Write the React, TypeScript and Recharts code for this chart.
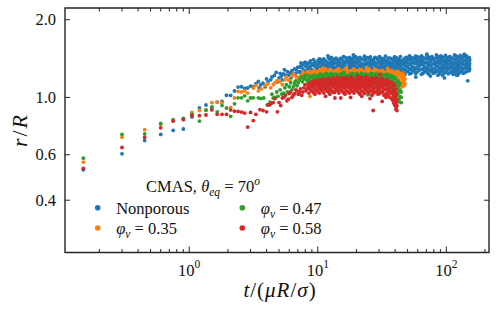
import React from 'react';
import { ScatterChart, Scatter, XAxis, YAxis, ReferenceArea } from 'recharts';

const W = 498;
const H = 312;
const PLOT_LEFT = 65;
const PLOT_RIGHT = 489;
const PLOT_TOP = 8;
const PLOT_BOTTOM = 252.5;
const FONT = '"Liberation Serif", "Times New Roman", serif';
const INK = '#262626';
const TEXT = '#111';

const BLUE = '#1f77b4';
const ORANGE = '#ff7f0e';
const GREEN = '#2ca02c';
const RED = '#d62728';

const X_DOMAIN: [number, number] = [0.108, 215];
const Y_DOMAIN: [number, number] = [0.251, 2.22];
const X_TICKS = [0.2, 0.3, 0.4, 0.5, 0.6, 0.7, 0.8, 0.9, 1, 2, 3, 4, 5, 6, 7, 8, 9, 10, 20, 30, 40, 50, 60, 70, 80, 90, 100, 200];
const X_MAJOR: Record<string, string> = { '1': '0', '10': '1', '100': '2' };
const Y_TICKS = [0.4, 0.6, 1.0, 2.0];
const Y_LABELS = ['0.4', '0.6', '1.0', '2.0'];

// first samples, every 0.15 time units
const tEarly = [0.15, 0.3, 0.45, 0.6, 0.75, 0.9, 1.05, 1.2, 1.35, 1.5, 1.65, 1.8, 1.95, 2.1, 2.25, 2.4, 2.55, 2.7, 2.85, 3.0];
const blueEarly = [0.525, 0.605, 0.681, 0.719, 0.745, 0.755, 0.84, 0.912, 0.935, 0.912, 0.96, 0.965, 1.02, 1.018, 1.06, 1.097, 1.1, 1.085, 1.088, 1.107];
const orangeEarly = [0.562, 0.702, 0.75, 0.785, 0.812, 0.825, 0.875, 0.89, 0.895, 0.955, 0.96, 0.952, 0.91, 0.915, 0.995, 1.055, 1.05, 1.06, 1.04, 0.995];
const greenEarly = [0.582, 0.719, 0.722, 0.793, 0.82, 0.83, 0.86, 0.81, 0.893, 0.92, 0.88, 0.93, 0.91, 0.845, 0.945, 0.997, 0.997, 1.015, 0.97, 0.997];
const redEarly = [0.531, 0.64, 0.7, 0.763, 0.81, 0.82, 0.85, 0.85, 0.855, 0.895, 0.86, 0.86, 0.86, 0.895, 0.885, 0.883, 0.878, 0.87, 0.768, 0.875];

// later samples: [t, r values seen around that t]
const blueLate: [number, number[]][] = [
  [3.15, [1.1]], [3.3, [1.13]], [3.45, [1.153]], [3.6, [1.12]], [3.75, [1.135]], [3.9, [1.1]],
  [4.1, [1.148]], [4.3, [1.17]], [4.6, [1.217]], [4.85, [1.148]], [5.0, [1.19]], [5.2, [1.21]],
  [5.3, [1.17]], [5.4, [1.235]], [5.6, [1.22]], [5.8, [1.26]], [6.1, [1.245]], [6.2, [1.19]],
  [6.4, [1.23]], [6.6, [1.29]], [6.8, [1.28]], [6.9, [1.2]], [7.1, [1.255]],
  [7.27, [1.19, 1.26, 1.31]], [7.67, [1.22, 1.29, 1.34]], [8.09, [1.21, 1.27, 1.32]],
  [8.54, [1.24, 1.3, 1.36]], [9.01, [1.23, 1.28, 1.35]], [9.51, [1.26, 1.32, 1.37]],
  [10.04, [1.24, 1.3, 1.34, 1.39]], [10.59, [1.27, 1.32, 1.38]], [11.17, [1.25, 1.31, 1.36, 1.41]],
  [11.79, [1.28, 1.33, 1.37]], [12.44, [1.26, 1.3, 1.35, 1.4]], [13.13, [1.29, 1.34, 1.39]],
  [13.86, [1.25, 1.31, 1.36, 1.42]], [14.62, [1.28, 1.33, 1.38]], [15.43, [1.26, 1.3, 1.35, 1.4]],
  [16.28, [1.29, 1.34, 1.38, 1.43]], [17.18, [1.27, 1.31, 1.36, 1.4]], [18.13, [1.25, 1.3, 1.35, 1.39]],
  [19.13, [1.28, 1.33, 1.38, 1.42]], [20.19, [1.26, 1.31, 1.36, 1.4]], [21.3, [1.28, 1.33, 1.37, 1.43]],
  [22.48, [1.26, 1.31, 1.35, 1.4]], [23.71, [1.29, 1.34, 1.38, 1.42]], [25.03, [1.27, 1.31, 1.36, 1.41]],
  [26.41, [1.25, 1.3, 1.35, 1.39]], [27.87, [1.28, 1.33, 1.37, 1.43]], [29.4, [1.26, 1.31, 1.36, 1.4]],
  [31.03, [1.29, 1.34, 1.38, 1.42]], [32.74, [1.27, 1.32, 1.36, 1.41]], [34.55, [1.25, 1.3, 1.35, 1.39]],
  [36.46, [1.28, 1.33, 1.37, 1.42]], [38.47, [1.26, 1.31, 1.36, 1.4]], [40.6, [1.29, 1.34, 1.38, 1.43]],
  [42.84, [1.27, 1.32, 1.36, 1.41]], [45.2, [1.25, 1.3, 1.35, 1.39]], [47.7, [1.23, 1.28, 1.33, 1.37, 1.42]],
  [50.3, [1.26, 1.31, 1.36, 1.4]], [53.1, [1.24, 1.29, 1.34, 1.39, 1.43]], [56.1, [1.27, 1.31, 1.36, 1.41]],
  [59.1, [1.25, 1.3, 1.35, 1.39, 1.44]], [62.4, [1.28, 1.33, 1.37, 1.42]], [65.9, [1.24, 1.29, 1.34, 1.38, 1.43]],
  [69.5, [1.27, 1.31, 1.36, 1.41]], [73.3, [1.23, 1.28, 1.33, 1.37, 1.42]], [77.4, [1.26, 1.3, 1.35, 1.4, 1.44]],
  [81.6, [1.25, 1.29, 1.34, 1.38]], [86.1, [1.22, 1.27, 1.32, 1.37, 1.41]], [90.9, [1.26, 1.3, 1.35, 1.4, 1.45]],
  [95.9, [1.24, 1.29, 1.33, 1.38, 1.42]], [101, [1.27, 1.31, 1.36, 1.41]], [107, [1.25, 1.3, 1.34, 1.39, 1.44]],
  [113, [1.23, 1.28, 1.33, 1.37, 1.42]], [119, [1.26, 1.31, 1.35, 1.4, 1.45]], [125, [1.24, 1.29, 1.34, 1.38, 1.43]],
  [132, [1.27, 1.31, 1.36, 1.41]], [140, [1.25, 1.3, 1.34, 1.39, 1.44]], [147, [1.16, 1.28, 1.33, 1.37, 1.42]],
  [152, [1.29, 1.35, 1.4]],
];

// in-between samples of the same runs, filling the dense band, plus stray points
const blueFill: [number, number[]][] = [
  [3.5, [1.09]], [4.0, [1.18]], [4.4, [1.2]], [4.75, [1.25]], [5.1, [1.24]], [5.5, [1.28]],
  [5.9, [1.22]], [6.3, [1.27]], [6.7, [1.24]], [7.0, [1.31]], [7.4, [1.36]], [8.0, [1.37]],
  [7.47, [1.23, 1.33]], [7.88, [1.25, 1.36]], [8.31, [1.28, 1.345]], [8.77, [1.22, 1.32, 1.385]],
  [9.26, [1.265, 1.33, 1.4]], [9.77, [1.235, 1.285, 1.35]], [10.31, [1.255, 1.36, 1.41]],
  [10.88, [1.24, 1.295, 1.345, 1.4]], [11.48, [1.27, 1.33, 1.385]], [12.11, [1.245, 1.305, 1.355, 1.42]],
  [12.0, [1.45]], [18.9, [1.46]], [26.0, [1.22]], [33.0, [1.21]], [58.0, [1.2]], [70.5, [1.47]],
  [96.7, [1.19]], [120.5, [1.22]], [138, [1.47]],
  [12.78, [1.28, 1.32, 1.375, 1.43]], [13.49, [1.25, 1.305, 1.36, 1.405]], [14.24, [1.265, 1.345, 1.4]],
  [15.02, [1.245, 1.31, 1.355, 1.415]], [15.85, [1.275, 1.325, 1.37, 1.44]], [16.72, [1.25, 1.295, 1.38, 1.42]],
  [17.65, [1.285, 1.33, 1.375, 1.43]], [18.63, [1.265, 1.32, 1.365, 1.415]], [19.65, [1.245, 1.3, 1.355, 1.44]],
  [20.74, [1.275, 1.325, 1.385, 1.42]], [21.88, [1.255, 1.305, 1.35, 1.41]], [23.09, [1.28, 1.34, 1.395, 1.445]],
  [24.36, [1.25, 1.3, 1.355, 1.425]], [25.71, [1.265, 1.33, 1.38, 1.435]], [27.13, [1.285, 1.345, 1.405]],
  [28.63, [1.245, 1.295, 1.35, 1.42]], [30.2, [1.27, 1.315, 1.375, 1.44]], [31.88, [1.25, 1.305, 1.36, 1.405]],
  [33.63, [1.28, 1.325, 1.39, 1.445]], [35.49, [1.26, 1.31, 1.36, 1.42]], [37.46, [1.245, 1.295, 1.345, 1.41]],
  [39.52, [1.27, 1.32, 1.39, 1.435]], [41.71, [1.25, 1.31, 1.355, 1.4]], [44.0, [1.28, 1.335, 1.38, 1.44]],
  [46.43, [1.24, 1.29, 1.345, 1.4]], [49.0, [1.265, 1.32, 1.375, 1.43]], [51.7, [1.235, 1.285, 1.345, 1.41, 1.45]],
  [54.5, [1.265, 1.31, 1.37, 1.42]], [57.6, [1.24, 1.295, 1.355, 1.4, 1.445]], [60.7, [1.27, 1.32, 1.38, 1.43]],
  [64.1, [1.23, 1.285, 1.345, 1.405, 1.45]], [67.7, [1.26, 1.31, 1.365, 1.42]], [71.4, [1.245, 1.3, 1.355, 1.41, 1.45]],
  [75.3, [1.21, 1.27, 1.325, 1.385, 1.43]], [79.5, [1.24, 1.29, 1.35, 1.415]], [83.8, [1.265, 1.315, 1.36, 1.425, 1.46]],
  [88.5, [1.24, 1.3, 1.355, 1.39, 1.44]], [93.4, [1.22, 1.275, 1.32, 1.375, 1.43]], [98.5, [1.25, 1.305, 1.35, 1.395, 1.455]],
  [103.8, [1.235, 1.29, 1.34, 1.385, 1.43]], [109.9, [1.26, 1.315, 1.365, 1.42]], [116.1, [1.245, 1.295, 1.355, 1.4, 1.46]],
  [122.2, [1.22, 1.275, 1.325, 1.38, 1.43]], [128.4, [1.255, 1.31, 1.36, 1.41, 1.455]], [135.6, [1.24, 1.29, 1.345, 1.39, 1.44]],
  [143.8, [1.26, 1.31, 1.365, 1.415, 1.45]], [151, [1.27, 1.32, 1.38, 1.425]],
];

const orangeLate: [number, number[]][] = [
  [3.15, [1.087]], [3.3, [1.113]], [3.45, [1.06]], [3.65, [1.08]], [3.9, [1.113]], [4.1, [1.13]],
  [4.5, [1.12]], [4.8, [1.16]], [5.3, [1.12]], [5.55, [1.17]], [5.9, [1.17]], [6.3, [1.21]],
  [6.6, [1.15]], [7.0, [1.19]], [7.5, [1.22]], [7.8, [1.18]], [8.1, [1.23]], [8.4, [1.2]], [8.7, [1.01]],
  [8.54, [1.17, 1.22, 1.26]], [9.01, [1.15, 1.2, 1.25]], [9.51, [1.18, 1.23, 1.27]],
  [10.04, [1.16, 1.21, 1.26]], [10.59, [1.19, 1.24, 1.28]], [11.17, [1.15, 1.2, 1.25]],
  [11.79, [1.17, 1.22, 1.27]], [12.44, [1.19, 1.24, 1.28]], [13.13, [1.16, 1.21, 1.26]],
  [13.86, [1.18, 1.23, 1.27]], [14.62, [1.15, 1.2, 1.25, 1.29]], [15.43, [1.17, 1.22, 1.26]],
  [16.28, [1.19, 1.24, 1.28]], [17.18, [1.16, 1.21, 1.26]], [18.13, [1.18, 1.23, 1.27]],
  [19.13, [1.15, 1.2, 1.25, 1.29]], [20.19, [1.17, 1.22, 1.27]], [21.3, [1.19, 1.24, 1.28]],
  [22.48, [1.16, 1.21, 1.26]], [23.71, [1.18, 1.23, 1.27]], [25.03, [1.15, 1.2, 1.25, 1.29]],
  [26.41, [1.17, 1.22, 1.26]], [27.87, [1.19, 1.23, 1.28]], [29.4, [1.16, 1.21, 1.26]],
  [31.03, [1.18, 1.22, 1.27]], [32.74, [1.15, 1.2, 1.25]], [34.55, [1.17, 1.22, 1.26]],
  [36.46, [1.14, 1.19, 1.24, 1.27]], [38.47, [1.16, 1.21, 1.25]], [40.6, [1.13, 1.18, 1.23, 1.26]],
  [42.84, [1.11, 1.16, 1.21, 1.25]], [45.2, [1.1, 1.15, 1.2, 1.24]], [46.85, [1.11, 1.16, 1.21]],
  [47.7, [1.13, 1.18]],
];

const orangeFill: [number, number[]][] = [
  [4.3, [1.09]], [4.65, [1.14]], [5.1, [1.15]], [5.7, [1.2]], [6.1, [1.16]], [6.5, [1.23]],
  [6.8, [1.2]], [7.3, [1.17]], [7.7, [1.25]], [8.3, [1.26]],
  [11.0, [1.3]], [16.7, [1.305]], [24.0, [1.3]], [35.0, [1.295]],
  [8.77, [1.195, 1.245]], [9.26, [1.21, 1.265]], [9.77, [1.185, 1.24]], [10.31, [1.225, 1.275]],
  [10.88, [1.2, 1.255]], [11.48, [1.215, 1.285]], [12.11, [1.19, 1.245]], [12.78, [1.23, 1.27]],
  [13.49, [1.205, 1.26]], [14.24, [1.22, 1.28]], [15.02, [1.195, 1.25]], [15.85, [1.215, 1.27]],
  [16.72, [1.235, 1.285]], [17.65, [1.2, 1.255]], [18.63, [1.225, 1.27]], [19.65, [1.19, 1.245]],
  [20.74, [1.21, 1.265]], [21.88, [1.23, 1.28]], [23.09, [1.2, 1.25]], [24.36, [1.22, 1.275]],
  [25.71, [1.195, 1.26]], [27.13, [1.215, 1.27]], [28.63, [1.235, 1.28]], [30.2, [1.205, 1.255]],
  [31.88, [1.225, 1.27]], [33.63, [1.19, 1.245]], [35.49, [1.21, 1.265]], [37.46, [1.185, 1.235, 1.27]],
  [39.52, [1.2, 1.25]], [41.71, [1.17, 1.225, 1.26]], [44.0, [1.14, 1.19, 1.235]], [46.43, [1.13, 1.175, 1.225]],
];

const greenLate: [number, number[]][] = [
  [3.15, [0.997]], [3.45, [0.997]], [3.6, [0.99]], [3.8, [0.995]], [4.05, [0.935]], [4.25, [0.96]],
  [4.5, [0.995]], [4.65, [1.0]], [4.9, [1.01]], [5.25, [1.03]], [5.55, [1.09]], [5.8, [1.05]],
  [6.0, [1.1]], [6.3, [1.07]], [6.6, [1.13]], [6.9, [1.11]], [7.2, [1.17]], [7.6, [1.15]],
  [7.9, [1.2]], [8.2, [1.17]],
  [8.54, [1.12, 1.17, 1.21]], [9.01, [1.1, 1.15, 1.2]], [9.51, [1.13, 1.18, 1.22]],
  [10.04, [1.11, 1.16, 1.21]], [10.59, [1.09, 1.14, 1.19, 1.23]], [11.17, [1.12, 1.17, 1.22]],
  [11.79, [1.1, 1.15, 1.2, 1.24]], [12.44, [1.13, 1.18, 1.22]], [13.13, [1.11, 1.16, 1.21]],
  [13.86, [1.09, 1.14, 1.19, 1.23]], [14.62, [1.12, 1.17, 1.22]], [15.43, [1.1, 1.15, 1.2, 1.24]],
  [16.28, [1.13, 1.18, 1.22]], [17.18, [1.11, 1.16, 1.21]], [18.13, [1.09, 1.14, 1.19, 1.23]],
  [19.13, [1.12, 1.17, 1.22]], [20.19, [1.1, 1.15, 1.2, 1.24]], [21.3, [1.13, 1.18, 1.22]],
  [22.48, [1.11, 1.16, 1.21]], [23.71, [1.09, 1.14, 1.19, 1.23]], [24.6, [1.024]], [25.03, [1.12, 1.17, 1.22]],
  [26.41, [1.1, 1.15, 1.2, 1.24]], [27.87, [1.13, 1.18, 1.22]], [29.4, [1.11, 1.16, 1.21]],
  [31.03, [1.09, 1.14, 1.19, 1.23]], [32.74, [1.12, 1.17, 1.22]], [34.55, [1.1, 1.15, 1.2, 1.23]],
  [36.46, [1.08, 1.13, 1.18, 1.22]], [38.47, [1.06, 1.11, 1.16, 1.21]], [40.6, [1.02, 1.08, 1.14, 1.19]],
  [41.5, [0.965]], [42.08, [0.98, 1.04, 1.1, 1.16]], [43.61, [0.96, 1.01, 1.07, 1.13]], [44.6, [0.955, 1.0, 1.05]],
];

const greenFill: [number, number[]][] = [
  [4.4, [1.03]], [4.8, [1.05]], [5.1, [1.07]], [5.4, [1.04]], [5.7, [1.12]], [6.15, [1.14]],
  [6.45, [1.1]], [6.75, [1.16]], [7.05, [1.14]], [7.4, [1.2]], [7.75, [1.18]], [8.05, [1.22]], [8.35, [1.15]],
  [12.3, [1.06]], [19.6, [1.07]], [29.8, [1.05]], [16.0, [1.25]],
  [8.77, [1.14, 1.19]], [9.26, [1.125, 1.175, 1.215]], [9.77, [1.155, 1.2]], [10.31, [1.135, 1.185, 1.225]],
  [10.88, [1.16, 1.21]], [11.48, [1.14, 1.19, 1.235]], [12.11, [1.125, 1.17, 1.215]], [12.78, [1.15, 1.2, 1.24]],
  [13.49, [1.135, 1.185, 1.225]], [14.24, [1.16, 1.205]], [15.02, [1.13, 1.175, 1.23]], [15.85, [1.145, 1.19, 1.235]],
  [16.72, [1.16, 1.21]], [17.65, [1.13, 1.18, 1.225]], [18.63, [1.155, 1.2, 1.24]], [19.65, [1.14, 1.185, 1.23]],
  [20.74, [1.125, 1.17, 1.215]], [21.88, [1.15, 1.195, 1.24]], [23.09, [1.135, 1.18, 1.225]], [24.36, [1.16, 1.205]],
  [25.71, [1.14, 1.19, 1.235]], [27.13, [1.125, 1.175, 1.22]], [28.63, [1.15, 1.195, 1.24]], [30.2, [1.135, 1.185, 1.225]],
  [31.88, [1.155, 1.2]], [33.63, [1.13, 1.18, 1.225]], [35.49, [1.12, 1.165, 1.21]], [37.46, [1.1, 1.15, 1.195]],
  [39.52, [1.07, 1.125, 1.18]], [41.71, [1.03, 1.09, 1.15]], [43.0, [0.99, 1.06, 1.12]],
];

const redLate: [number, number[]][] = [
  [3.15, [0.814]], [3.3, [0.86]], [3.55, [0.897]], [3.75, [0.89]], [4.0, [0.88]], [4.12, [0.937]],
  [4.24, [0.937]], [4.37, [0.951]], [4.5, [0.955]], [4.85, [0.88]], [5.0, [0.955]], [5.3, [0.995]],
  [5.6, [1.02]], [5.75, [0.97]], [6.0, [1.035]], [6.3, [1.0]], [6.6, [1.035]], [6.9, [1.06]],
  [7.2, [1.05]], [7.5, [1.02]], [7.8, [1.09]], [8.1, [1.06]], [8.4, [1.11]],
  [8.54, [1.04, 1.09, 1.13]], [9.01, [1.06, 1.11, 1.15]], [9.51, [1.03, 1.08, 1.12, 1.16]],
  [10.04, [1.05, 1.1, 1.14]], [10.59, [1.07, 1.12, 1.17]], [11.17, [1.04, 1.09, 1.13, 1.18]],
  [11.79, [1.06, 1.11, 1.15]], [12.44, [1.03, 1.08, 1.13, 1.17]], [13.13, [1.05, 1.1, 1.14, 1.19]],
  [13.6, [0.995]], [13.86, [1.07, 1.12, 1.16]], [14.62, [1.04, 1.09, 1.14, 1.18]], [15.1, [0.995]],
  [15.43, [1.06, 1.11, 1.15, 1.19]], [16.28, [1.03, 1.08, 1.12, 1.17]], [17.18, [1.05, 1.1, 1.14, 1.18]],
  [18.13, [1.07, 1.11, 1.16, 1.2]], [19.13, [1.04, 1.09, 1.13, 1.17]], [20.19, [1.06, 1.1, 1.15, 1.19]],
  [21.3, [1.03, 1.08, 1.12, 1.17]], [22.48, [1.05, 1.1, 1.14, 1.18]], [23.71, [1.07, 1.11, 1.16, 1.2]],
  [25.03, [1.04, 1.09, 1.13, 1.17]], [26.41, [1.02, 1.06, 1.11, 1.15, 1.19]], [27.0, [0.89]],
  [27.87, [1.05, 1.09, 1.14, 1.18]], [29.4, [1.03, 1.08, 1.12, 1.16]], [30.5, [1.225]],
  [31.03, [1.05, 1.1, 1.14, 1.18]], [31.7, [0.965]], [32.74, [1.02, 1.07, 1.11, 1.16]],
  [34.55, [1.04, 1.08, 1.13, 1.17]], [36.46, [1.0, 1.05, 1.1, 1.15]], [38.47, [0.97, 1.03, 1.08, 1.13]],
  [39.8, [0.93, 0.99, 1.05, 1.11]], [40.6, [0.9, 0.95, 1.01, 1.07]], [41.3, [0.89, 0.93, 0.98]],
];

const redFill: [number, number[]][] = [
  [4.65, [0.99]], [5.15, [0.93]], [5.45, [1.0]], [5.9, [0.985]], [6.15, [1.05]], [6.45, [1.02]],
  [6.75, [1.07]], [7.05, [1.03]], [7.35, [1.08]], [7.65, [1.05]], [7.95, [1.12]], [8.25, [1.08]],
  [11.5, [1.01]], [18.0, [1.0]], [22.0, [1.01]], [25.5, [0.99]], [34.0, [1.0]], [20.5, [1.21]],
  [8.77, [1.07, 1.12]], [9.26, [1.045, 1.095, 1.14]], [9.77, [1.065, 1.115, 1.16]], [10.31, [1.04, 1.085, 1.13, 1.17]],
  [10.88, [1.06, 1.105, 1.15]], [11.48, [1.075, 1.125, 1.17]], [12.11, [1.05, 1.095, 1.14, 1.185]], [12.78, [1.065, 1.115, 1.16]],
  [13.49, [1.045, 1.09, 1.135, 1.18]], [14.24, [1.06, 1.105, 1.15, 1.195]], [15.02, [1.07, 1.12, 1.165]],
  [15.85, [1.045, 1.095, 1.14, 1.18]], [16.72, [1.06, 1.11, 1.155, 1.195]], [17.65, [1.04, 1.085, 1.13, 1.17]],
  [18.63, [1.055, 1.1, 1.145, 1.185]], [19.65, [1.07, 1.12, 1.165]], [20.74, [1.045, 1.09, 1.135, 1.18]],
  [21.88, [1.06, 1.105, 1.15, 1.195]], [23.09, [1.035, 1.08, 1.125, 1.17]], [24.36, [1.055, 1.1, 1.145, 1.19]],
  [25.71, [1.065, 1.115, 1.16]], [27.13, [1.04, 1.085, 1.13, 1.175]], [28.63, [1.055, 1.1, 1.145, 1.19]],
  [30.2, [1.035, 1.08, 1.125, 1.165]], [31.88, [1.05, 1.095, 1.14, 1.18]], [33.63, [1.03, 1.075, 1.12, 1.165]],
  [35.49, [1.02, 1.065, 1.11, 1.155]], [37.46, [0.99, 1.04, 1.09, 1.14]], [39.1, [0.95, 1.01, 1.06, 1.12]],
  [40.9, [0.92, 0.97, 1.03]],
];

type Pt = { t: number; r: number };
const build = (early: number[], ...late: [number, number[]][][]): Pt[] => [
  ...tEarly.map((t, i) => ({ t, r: early[i] })),
  ...late.flat().flatMap(([t, rs]) => rs.map((r) => ({ t, r }))),
];

const blueData = build(blueEarly, blueLate, blueFill);
const orangeData = build(orangeEarly, orangeLate, orangeFill);
const greenData = build(greenEarly, greenLate, greenFill);
const redData = build(redEarly, redLate, redFill);

const dot = (color: string) => (p: any) => <circle cx={p.cx} cy={p.cy} r={1.9} fill={color} />;

const XTick = (props: any) => {
  const { x, payload } = props;
  const exp = X_MAJOR[String(payload.value)];
  const len = exp !== undefined ? 6 : 3.5;
  return (
    <g>
      <line x1={x} x2={x} y1={PLOT_BOTTOM} y2={PLOT_BOTTOM - len} stroke={INK} strokeWidth={1} />
      <line x1={x} x2={x} y1={PLOT_TOP} y2={PLOT_TOP + len} stroke={INK} strokeWidth={1} />
      {exp !== undefined && (
        <text x={x} y={PLOT_BOTTOM + 23} textAnchor="middle" fontFamily={FONT} fontSize={16.5} fill={TEXT}>
          10<tspan dy={-8} fontSize={11.5}>{exp}</tspan>
        </text>
      )}
    </g>
  );
};

const YTick = (props: any) => {
  const { y, payload } = props;
  const i = Y_TICKS.indexOf(payload.value);
  return (
    <g>
      <line x1={PLOT_LEFT} x2={PLOT_LEFT + 5} y1={y} y2={y} stroke={INK} strokeWidth={1} />
      <line x1={PLOT_RIGHT} x2={PLOT_RIGHT - 5} y1={y} y2={y} stroke={INK} strokeWidth={1} />
      <text x={56} y={y + 5.5} textAnchor="end" fontFamily={FONT} fontSize={16.5} fill={TEXT}>
        {Y_LABELS[i]}
      </text>
    </g>
  );
};

const XTitle = () => (
  <text x={280} y={297} textAnchor="middle" fontFamily={FONT} fontSize={21} letterSpacing={1} fill={TEXT}>
    <tspan fontStyle="italic">t</tspan>/(<tspan fontStyle="italic">μR</tspan>/<tspan fontStyle="italic">σ</tspan>)
  </text>
);

const YTitle = () => (
  <text x={0} y={0} transform="translate(27,130) rotate(-90)" textAnchor="middle" fontFamily={FONT} fontSize={22} letterSpacing={2} fill={TEXT}>
    <tspan fontStyle="italic">r</tspan>/<tspan fontStyle="italic">R</tspan>
  </text>
);

const legendItems = [
  { color: BLUE, label: 'Nonporous', x: 97.7, y: 207.7 },
  { color: ORANGE, label: '0.35', x: 97.7, y: 228 },
  { color: GREEN, label: '0.47', x: 242.3, y: 207.7 },
  { color: RED, label: '0.58', x: 242.3, y: 228 },
];

const LegendBox = () => (
  <svg width={W} height={H} style={{ position: 'absolute', left: 0, top: 0, pointerEvents: 'none' }}>
    <text x={203} y={192} textAnchor="middle" fontFamily={FONT} fontSize={16.5} fill={TEXT}>
      CMAS, <tspan fontStyle="italic">θ</tspan>
      <tspan fontStyle="italic" fontSize={11.5} dy={4}>eq</tspan>
      <tspan dy={-4}> = 70</tspan>
      <tspan fontStyle="italic" fontSize={11.5} dy={-7}>o</tspan>
    </text>
    {legendItems.map((it) => (
      <g key={it.label}>
        <circle cx={it.x} cy={it.y} r={2.8} fill={it.color} />
        <text x={it.x + 18.5} y={it.y + 6} fontFamily={FONT} fontSize={16.5} fill={TEXT}>
          {it.label === 'Nonporous' ? (
            'Nonporous'
          ) : (
            <>
              <tspan fontStyle="italic">φ</tspan>
              <tspan fontStyle="italic" fontSize={11.5} dy={4}>v</tspan>
              <tspan dy={-4}> = {it.label}</tspan>
            </>
          )}
        </text>
      </g>
    ))}
  </svg>
);

export default function App() {
  return (
    <div style={{ position: 'absolute', left: 0, top: 0, width: W, height: H, background: '#fff' }}>
      <ScatterChart width={W} height={H} margin={{ top: PLOT_TOP, right: W - PLOT_RIGHT, bottom: 0, left: 0 }}>
        <XAxis
          type="number"
          dataKey="t"
          scale="log"
          domain={X_DOMAIN}
          ticks={X_TICKS}
          interval={0}
          allowDataOverflow
          axisLine={false}
          tickLine={false}
          tick={(p: any) => <XTick {...p} />}
          height={H - PLOT_BOTTOM}
          label={<XTitle />}
        />
        <YAxis
          type="number"
          dataKey="r"
          scale="log"
          domain={Y_DOMAIN}
          ticks={Y_TICKS}
          interval={0}
          allowDataOverflow
          axisLine={false}
          tickLine={false}
          tick={(p: any) => <YTick {...p} />}
          width={PLOT_LEFT}
          label={<YTitle />}
        />
        <ReferenceArea
          x1={X_DOMAIN[0]}
          x2={X_DOMAIN[1]}
          y1={Y_DOMAIN[0]}
          y2={Y_DOMAIN[1]}
          fill="none"
          stroke={INK}
          strokeWidth={1.4}
          ifOverflow="visible"
        />
        <Scatter data={blueData} fill={BLUE} shape={dot(BLUE)} isAnimationActive={false} />
        <Scatter data={orangeData} fill={ORANGE} shape={dot(ORANGE)} isAnimationActive={false} />
        <Scatter data={greenData} fill={GREEN} shape={dot(GREEN)} isAnimationActive={false} />
        <Scatter data={redData} fill={RED} shape={dot(RED)} isAnimationActive={false} />
      </ScatterChart>
      <LegendBox />
    </div>
  );
}
